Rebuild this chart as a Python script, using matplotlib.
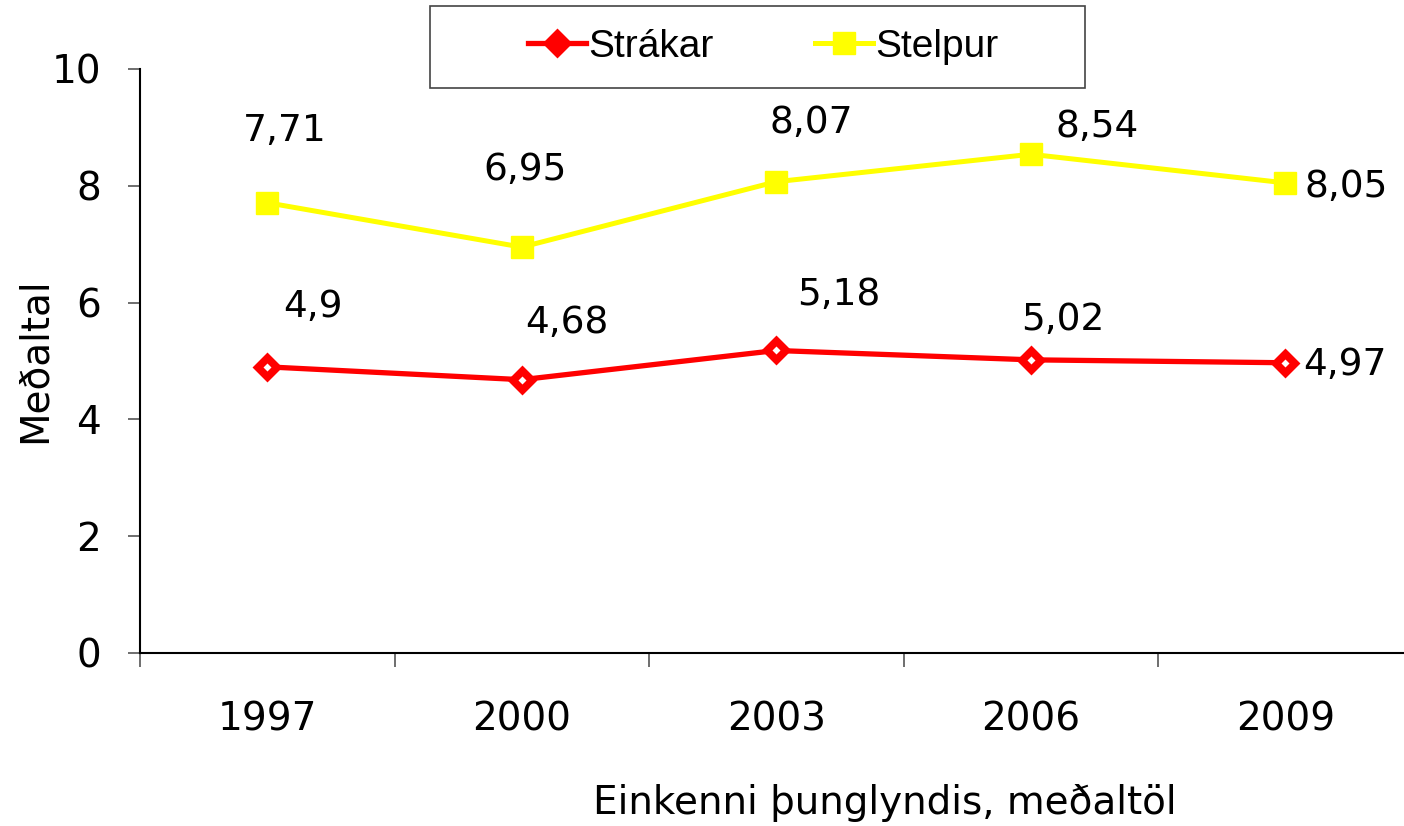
import matplotlib.pyplot as plt
from matplotlib.patches import Rectangle

years = ['1997', '2000', '2003', '2006', '2009']
strakar = [4.9, 4.68, 5.18, 5.02, 4.97]
stelpur = [7.71, 6.95, 8.07, 8.54, 8.05]
strakar_labels = ['4,9', '4,68', '5,18', '5,02', '4,97']
stelpur_labels = ['7,71', '6,95', '8,07', '8,54', '8,05']

# label offsets in pixels (dx, dy) from the point
strakar_off = [(46, 60), (45, 57), (63, 55), (32, 40), (60, -2)]
stelpur_off = [(18, 72), (3, 77), (35, 59), (66, 27), (61, -4)]

plt.rcParams['font.family'] = ['DejaVu Sans']

fig = plt.figure(figsize=(14.04, 8.26), dpi=100)
W, H = 1404, 826
ax = fig.add_axes([140 / W, (H - 653) / H, 1272.5 / W, 584 / H])

x = list(range(len(years)))
ax.plot(x, strakar, color='#ff0000', lw=3.8, marker='D', ms=13,
        mfc='#ff0000', mec='#ff0000', mew=2, label='Strákar', zorder=3)
ax.plot(x, strakar, ls='none', marker='D', ms=4, mfc='white', mec='none', zorder=4)
ax.plot(x, stelpur, color='#ffff00', lw=3.6, marker='s', ms=16,
        mfc='#ffff00', mec='#ffff00', label='Stelpur', zorder=3)

for i in x:
    ax.annotate(strakar_labels[i], (i, strakar[i]), xytext=strakar_off[i],
                textcoords='offset pixels', ha='center', va='center', fontsize=27)
    ax.annotate(stelpur_labels[i], (i, stelpur[i]), xytext=stelpur_off[i],
                textcoords='offset pixels', ha='center', va='center', fontsize=27)

ax.set_xlim(-0.5, 4.5)
ax.set_ylim(0, 10)
ax.set_yticks([0, 2, 4, 6, 8, 10])
ax.tick_params(axis='y', labelsize=28, length=9, width=1.2, pad=19, color='#555555')
ax.set_xticks([-0.5, 0.5, 1.5, 2.5, 3.5])
ax.set_xticklabels([])
ax.set_xticks(x, minor=True)
ax.set_xticklabels(years, minor=True)
ax.tick_params(axis='x', which='major', length=10, width=1.2, color='#555555')
ax.tick_params(axis='x', which='minor', length=0, labelsize=28, pad=34)

ax.spines['top'].set_visible(False)
ax.spines['right'].set_visible(False)
ax.spines['left'].set_linewidth(1.5)
ax.spines['bottom'].set_linewidth(1.5)

fig.text(35 / W, 1 - 360 / H, 'Meðaltal', rotation=90, ha='center', va='center', fontsize=28)
fig.text(885 / W, 1 - 803 / H, 'Einkenni þunglyndis, meðaltöl', ha='center', va='center', fontsize=28)

# legend frame drawn separately so it can be wider than the entries
fig.patches.append(Rectangle((430 / W, 1 - 88 / H), 655 / W, 82 / H,
                             transform=fig.transFigure, fill=True, facecolor='white',
                             edgecolor='#444444', lw=1.2, zorder=4))
leg = fig.legend(loc='center', bbox_to_anchor=(763 / W, 1 - 47 / H), ncol=2,
                 frameon=False,
                 prop={'family': ['Liberation Sans Narrow', 'Liberation Sans'], 'size': 28},
                 handlelength=1.5, handletextpad=0.05, columnspacing=2.6,
                 borderpad=0.55, borderaxespad=0)
leg.set_zorder(5)

fig.savefig('out.png', dpi=100)
